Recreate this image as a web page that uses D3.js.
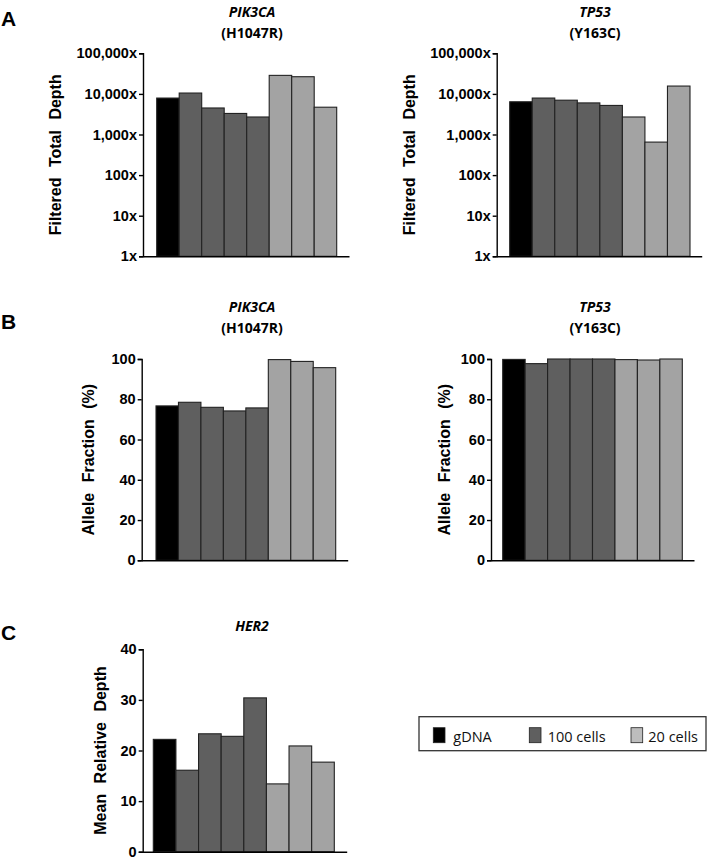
<!DOCTYPE html>
<html>
<head>
<meta charset="utf-8">
<script src="https://cdn.jsdelivr.net/npm/d3@7"></script>
<style>
  html, body { margin: 0; padding: 0; background: #fff; }
  svg { display: block; }
  .tick text { font-family: "Liberation Sans", Arial, sans-serif; font-weight: bold; font-size: 14.5px; fill: #000; }
  .domain, .tick line { stroke: #000; stroke-width: 1.4px; }
</style>
</head>
<body>
<svg id="chart" width="709" height="857"></svg>
<script>
// ---- data ----
const categories = ["gDNA", "100 cells #1", "100 cells #2", "100 cells #3", "100 cells #4", "20 cells #1", "20 cells #2", "20 cells #3"];
const groups = ["gDNA", "100 cells", "100 cells", "100 cells", "100 cells", "20 cells", "20 cells", "20 cells"];
const legendLabels = ["gDNA", "100 cells", "20 cells"];
const pik3caDepth = [7900, 10500, 4500, 3300, 2700, 28600, 26500, 4700];
const tp53Depth = [6400, 7900, 7000, 6000, 5200, 2700, 650, 15600];
const pik3caAF = [76.7, 78.5, 76.0, 74.2, 75.7, 99.7, 98.8, 95.7];
const tp53AF = [99.8, 97.7, 100, 100, 100, 99.7, 99.5, 100];
const her2Depth = [22.2, 16.1, 23.3, 22.8, 30.4, 13.4, 20.9, 17.7];
const depthTicks = [1, 10, 100, 1000, 10000, 100000];
const afTicks = [0, 20, 40, 60, 80, 100];
const her2Ticks = [0, 10, 20, 30, 40];

const barColor = d3.scaleOrdinal().domain(legendLabels).range(["#000000", "#5f5f5f", "#a3a3a3"]);
const legendColor = d3.scaleOrdinal().domain(legendLabels).range(["#000000", "#5f5f5f", "#bdbdbd"]);

const svg = d3.select("#chart");
const titleFont = "'Open Sans', 'DejaVu Sans', sans-serif";
const axisFont = "'Liberation Sans', Arial, sans-serif";

function panel(cfg) {
  const g = svg.append("g");
  const y = cfg.log
    ? d3.scaleLog().domain([1, 100000]).range([cfg.yBottom, cfg.yTop])
    : d3.scaleLinear().domain(cfg.domain).range([cfg.yBottom, cfg.yTop]);
  const x = d3.scaleBand().domain(categories).range([cfg.barStart, cfg.barEnd]).padding(0);
  const base = cfg.log ? y(1) : y(0);

  // bars
  g.selectAll("rect.bar").data(cfg.values).enter().append("rect")
    .attr("class", "bar")
    .attr("x", (d, i) => x(categories[i]))
    .attr("width", x.bandwidth())
    .attr("y", d => y(d))
    .attr("height", d => base - y(d))
    .attr("fill", (d, i) => barColor(groups[i]))
    .attr("stroke", "#222")
    .attr("stroke-width", 1.1);

  // y axis
  const axis = d3.axisLeft(y).tickValues(cfg.ticks).tickSizeOuter(0).tickSize(4).tickPadding(2);
  if (cfg.log) axis.tickFormat(d => d3.format(",")(d) + "x");
  else axis.tickFormat(d3.format("d"));
  g.append("g").attr("transform", `translate(${cfg.axisX},0)`).call(axis);

  // x axis baseline
  const xl = d3.scaleLinear().domain([0, 1]).range([cfg.axisX, cfg.xEnd]);
  g.append("g").attr("transform", `translate(0,${base})`)
    .call(d3.axisBottom(xl).tickValues([]).tickSizeOuter(0));

  // y title
  g.append("text")
    .attr("transform", `translate(${cfg.labelX},${(cfg.yTop + cfg.yBottom) / 2}) rotate(-90)`)
    .attr("text-anchor", "middle").attr("dominant-baseline", "central")
    .style("font-family", axisFont).style("font-weight", "bold").style("font-size", "16px")
    .style("word-spacing", "6px")
    .text(cfg.yLabel);

  // titles
  g.append("text").attr("x", cfg.titleX).attr("y", cfg.titleY)
    .attr("text-anchor", "middle").attr("dominant-baseline", "central")
    .style("font-family", titleFont).style("font-weight", "bold").style("font-style", "italic").style("font-size", "14px")
    .text(cfg.gene);
  if (cfg.mutation) {
    g.append("text").attr("x", cfg.titleX).attr("y", cfg.titleY + 21)
      .attr("text-anchor", "middle").attr("dominant-baseline", "central")
      .style("font-family", titleFont).style("font-weight", "bold").style("font-size", "14px")
      .text(cfg.mutation);
  }
}

panel({ log: true, values: pik3caDepth, ticks: depthTicks, yTop: 53.3, yBottom: 256.3,
  axisX: 143, barStart: 156.7, barEnd: 336.7, xEnd: 349, labelX: 55,
  yLabel: "Filtered Total Depth", gene: "PIK3CA", mutation: "(H1047R)", titleX: 252, titleY: 11.7 });
panel({ log: true, values: tp53Depth, ticks: depthTicks, yTop: 53.3, yBottom: 256.3,
  axisX: 496.7, barStart: 509.7, barEnd: 690, xEnd: 701.7, labelX: 409,
  yLabel: "Filtered Total Depth", gene: "TP53", mutation: "(Y163C)", titleX: 595, titleY: 11.7 });
panel({ log: false, domain: [0, 100], values: pik3caAF, ticks: afTicks, yTop: 359, yBottom: 560.3,
  axisX: 141.7, barStart: 156, barEnd: 335.7, xEnd: 347.7, labelX: 88,
  yLabel: "Allele Fraction (%)", gene: "PIK3CA", mutation: "(H1047R)", titleX: 252, titleY: 306.7 });
panel({ log: false, domain: [0, 100], values: tp53AF, ticks: afTicks, yTop: 359, yBottom: 560.3,
  axisX: 491, barStart: 502.7, barEnd: 682.3, xEnd: 694, labelX: 444,
  yLabel: "Allele Fraction (%)", gene: "TP53", mutation: "(Y163C)", titleX: 595, titleY: 306.7 });
panel({ log: false, domain: [0, 40], values: her2Depth, ticks: her2Ticks, yTop: 649.3, yBottom: 851.7,
  axisX: 142.7, barStart: 153.3, barEnd: 334.3, xEnd: 346.7, labelX: 100,
  yLabel: "Mean Relative Depth", gene: "HER2", mutation: null, titleX: 252, titleY: 625.7 });

// panel letters
[["A", 26], ["B", 329], ["C", 640]].forEach(([t, yy]) => {
  svg.append("text").attr("x", 1).attr("y", yy)
    .style("font-family", axisFont).style("font-weight", "bold").style("font-size", "21px")
    .text(t);
});

// legend
const lg = svg.append("g");
lg.append("rect").attr("x", 419).attr("y", 716.7).attr("width", 287).attr("height", 34)
  .attr("fill", "#fff").attr("stroke", "#333").attr("stroke-width", 1.3);
const swatchX = [433.3, 529.3, 631];
const textX = [453.3, 547.7, 648.3];
legendLabels.forEach((lab, i) => {
  lg.append("rect").attr("x", swatchX[i]).attr("y", 727.7).attr("width", 11.7).attr("height", 15)
    .attr("fill", legendColor(lab)).attr("stroke", "#222").attr("stroke-width", 0.8);
  lg.append("text").attr("x", textX[i]).attr("y", 741.5)
    .style("font-family", titleFont).style("font-size", "14.5px").style("fill", "#111")
    .text(lab);
});
</script>
</body>
</html>
